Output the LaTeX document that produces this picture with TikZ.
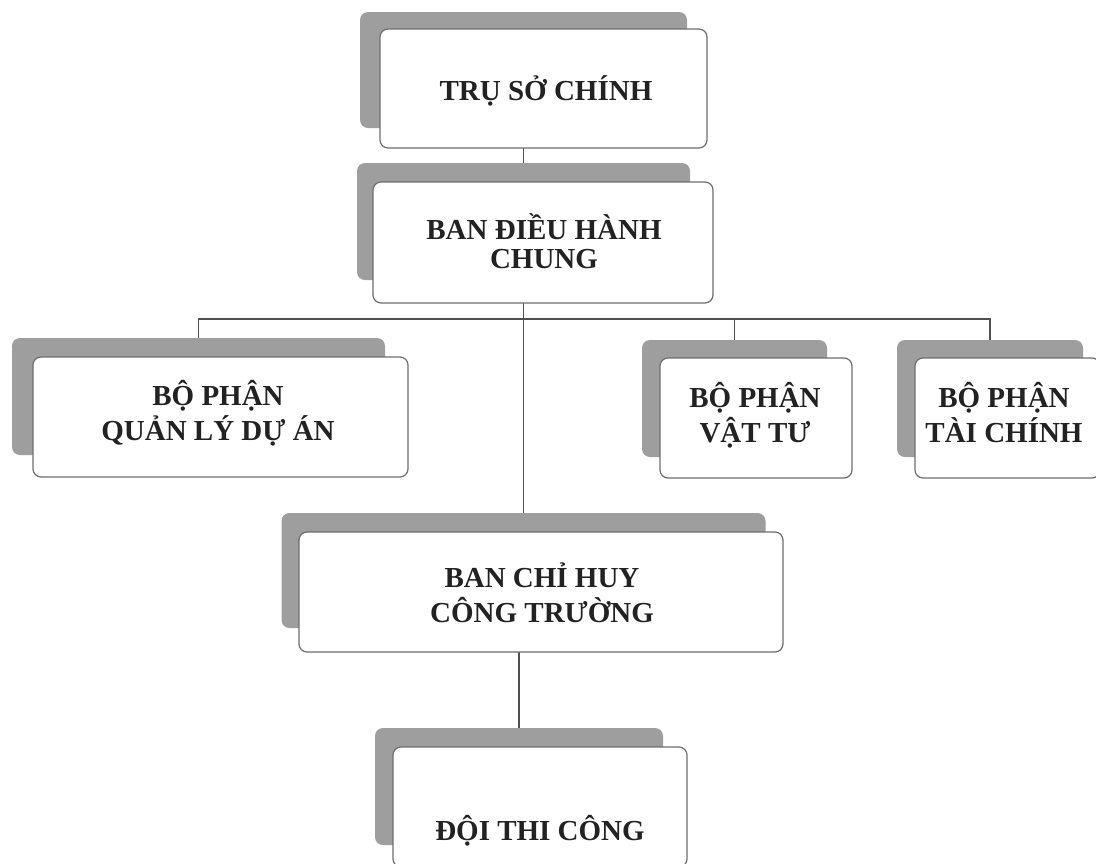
\documentclass[tikz,border=0pt]{standalone}
\usepackage{fontspec}
\setmainfont{Liberation Serif}
\usetikzlibrary{backgrounds}
\definecolor{shadowgray}{HTML}{9E9E9E}
\definecolor{edgegray}{HTML}{6E6E6E}
\definecolor{linegray}{HTML}{505050}
\definecolor{txt}{HTML}{222222}
\begin{document}
\begin{tikzpicture}[x=1pt,y=-1pt,
  shadowbox/.style={fill=shadowgray, rounded corners=8pt, inner sep=0pt, outer sep=0pt},
  frontbox/.style={fill=white, draw=edgegray, line width=1.2pt, rounded corners=8pt, inner sep=0pt, outer sep=0pt},
  boxtext/.style={inner sep=0pt, align=center, text=txt, font=\fontsize{29}{35}\selectfont\bfseries},
  conn/.style={draw=linegray, line width=1.3pt}
]
\useasboundingbox (0,0) rectangle (1096,863);
\clip (0,0) rectangle (1096,863);

% Box 1
\node[shadowbox, minimum width=327pt, minimum height=116pt] (s1) at (523.5,70) {};
\node[frontbox, minimum width=327pt, minimum height=119pt] (f1) at (543.5,88.5) {};
\node[boxtext, anchor=base] (t1) at (546,100) {TRỤ SỞ CHÍNH};

% Box 2
\node[shadowbox, minimum width=333pt, minimum height=117pt] (s2) at (523.5,221.5) {};
\node[frontbox, minimum width=340pt, minimum height=121pt] (f2) at (543,242.5) {};
\node[boxtext, anchor=base, font=\fontsize{29}{28.5}\selectfont\bfseries] (t2) at (544,268) {BAN ĐIỀU HÀNH\\CHUNG};

% Box 3
\node[shadowbox, minimum width=373pt, minimum height=117pt] (s3) at (198.5,396.5) {};
\node[frontbox, minimum width=375pt, minimum height=120pt] (f3) at (220.5,417) {};
\node[boxtext, anchor=base] (t3) at (218,440) {BỘ PHẬN\\QUẢN LÝ DỰ ÁN};

% Box 4
\node[shadowbox, minimum width=185pt, minimum height=117pt] (s4) at (734.5,398.5) {};
\node[frontbox, minimum width=192pt, minimum height=120pt] (f4) at (756,418) {};
\node[boxtext, anchor=base] (t4) at (755,442) {BỘ PHẬN\\VẬT TƯ};

% Box 5
\node[shadowbox, minimum width=186pt, minimum height=117pt] (s5) at (990,398.5) {};
\node[frontbox, minimum width=185pt, minimum height=120pt] (f5) at (1007.5,418) {};
\node[boxtext, anchor=base] (t5) at (1004,442) {BỘ PHẬN\\TÀI CHÍNH};

% Box 6
\node[shadowbox, minimum width=484pt, minimum height=115pt] (s6) at (523.5,570.5) {};
\node[frontbox, minimum width=484pt, minimum height=120pt] (f6) at (541,592) {};
\node[boxtext, anchor=base] (t6) at (542,622) {BAN CHỈ HUY\\CÔNG TRƯỜNG};

% Box 7
\node[shadowbox, minimum width=288pt, minimum height=117pt] (s7) at (519,786.5) {};
\node[frontbox, minimum width=294pt, minimum height=120pt] (f7) at (540,807) {};
\node[boxtext, anchor=base] (t7) at (540,840) {ĐỘI THI CÔNG};

\begin{scope}[on background layer]
  \fill[white] (0,0) rectangle (1096,863);
  \coordinate (bus) at (523,319);
  \draw[conn] (s1.south) -- (s2.north);
  \draw[conn] (s2.south) -- (s6.north);
  \draw[conn] (s3.north) -- (s3.north |- bus) -- (s5.north |- bus) -- (s5.north);
  \draw[conn] (s4.north) -- (s4.north |- bus);
  \draw[conn] (s7.north) -- (s7.north |- s6.south);
\end{scope}
\end{tikzpicture}
\end{document}
